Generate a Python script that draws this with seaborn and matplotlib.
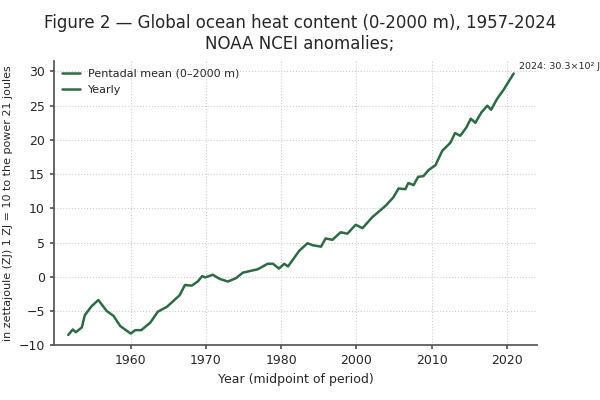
import matplotlib
matplotlib.use("Agg")
import matplotlib.pyplot as plt
import seaborn as sns
import pandas as pd

pos = [1951.7,1952.3,1952.7,1953.5,1953.9,1954.8,1955.7,1956.8,1957.7,1958.6,1960,1960.6,1961.4,1962.6,1963.6,1964.8,1966.5,1967.2,1968.1,1968.9,1969.5,1969.9,1970.9,1971.8,1972.9,1974,1974.9,1976.9,1978.2,1978.9,1979.7,1980.4,1980.9,1982.4,1983.5,1984.2,1985.3,1985.9,1986.8,1987.9,1988.8,1989.9,1990.8,1992.1,1993.9,1994.9,1995.6,1996.5,1996.9,1997.6,1998.2,1998.9,1999.6,2000.5,2001.4,2002.5,2003.1,2003.8,2004.6,2005.2,2005.8,2006.6,2007.4,2007.9,2008.7,2009.6,2010.9]
ohc = [-8.5,-7.7,-8.1,-7.4,-5.6,-4.3,-3.4,-5.0,-5.7,-7.2,-8.3,-7.8,-7.8,-6.7,-5.1,-4.4,-2.7,-1.2,-1.3,-0.7,0.1,-0.1,0.3,-0.3,-0.7,-0.2,0.6,1.1,1.9,1.9,1.2,1.9,1.5,3.8,4.9,4.6,4.4,5.6,5.4,6.5,6.3,7.6,7.1,8.7,10.4,11.6,12.9,12.8,13.7,13.4,14.6,14.7,15.6,16.3,18.4,19.6,21.0,20.6,21.8,23.1,22.5,24.0,25.0,24.4,26.0,27.4,29.7]
tick_pos = [1960,1970,1980,1990,2000,2010]
tick_labels = ["1960","1970","1980","2000","2010","2020"]
annot = "2024: 30.3×10² J"

sns.set_theme(style="ticks")
plt.rcParams['font.family'] = ['DejaVu Sans']
df = pd.DataFrame({"x": pos, "y": ohc})
fig = plt.figure(figsize=(6, 4), dpi=100)
ax = fig.add_axes([0.09, 0.137, 0.805, 0.71])
c = "#2e6b45"
sns.lineplot(data=df, x="x", y="y", ax=ax, color=c, lw=1.8, label="Pentadal mean (0–2000 m)")
ax.plot([], [], color=c, lw=1.8, label="Yearly")
ax.legend(loc="upper left", frameon=False, fontsize=8, handlelength=1.6, borderaxespad=0.3)
ax.set_xlim(1949.8, 2014)
ax.set_ylim(-10, 31.5)
ax.set_xticks(tick_pos)
ax.set_xticklabels(tick_labels)
ax.set_yticks(range(-10, 31, 5))
ax.tick_params(labelsize=9, length=3, color="#555")
ax.grid(True, ls=":", color="#cccccc", lw=0.8)
sns.despine(ax=ax)
for s in ("left", "bottom"):
    ax.spines[s].set_color("#555")
ax.set_xlabel("Year (midpoint of period)", fontsize=9)
ax.set_ylabel("in zettajoule (ZJ) 1 ZJ = 10 to the power 21 joules", fontsize=8)
ax.annotate(annot, (pos[-1], ohc[-1]), xytext=(4, 2), textcoords="offset points", fontsize=6.8, va="bottom")
fig.suptitle("Figure 2 — Global ocean heat content (0-2000 m), 1957-2024\nNOAA NCEI anomalies;", fontsize=12, y=0.965)
fig.savefig("out.png", dpi=100)
